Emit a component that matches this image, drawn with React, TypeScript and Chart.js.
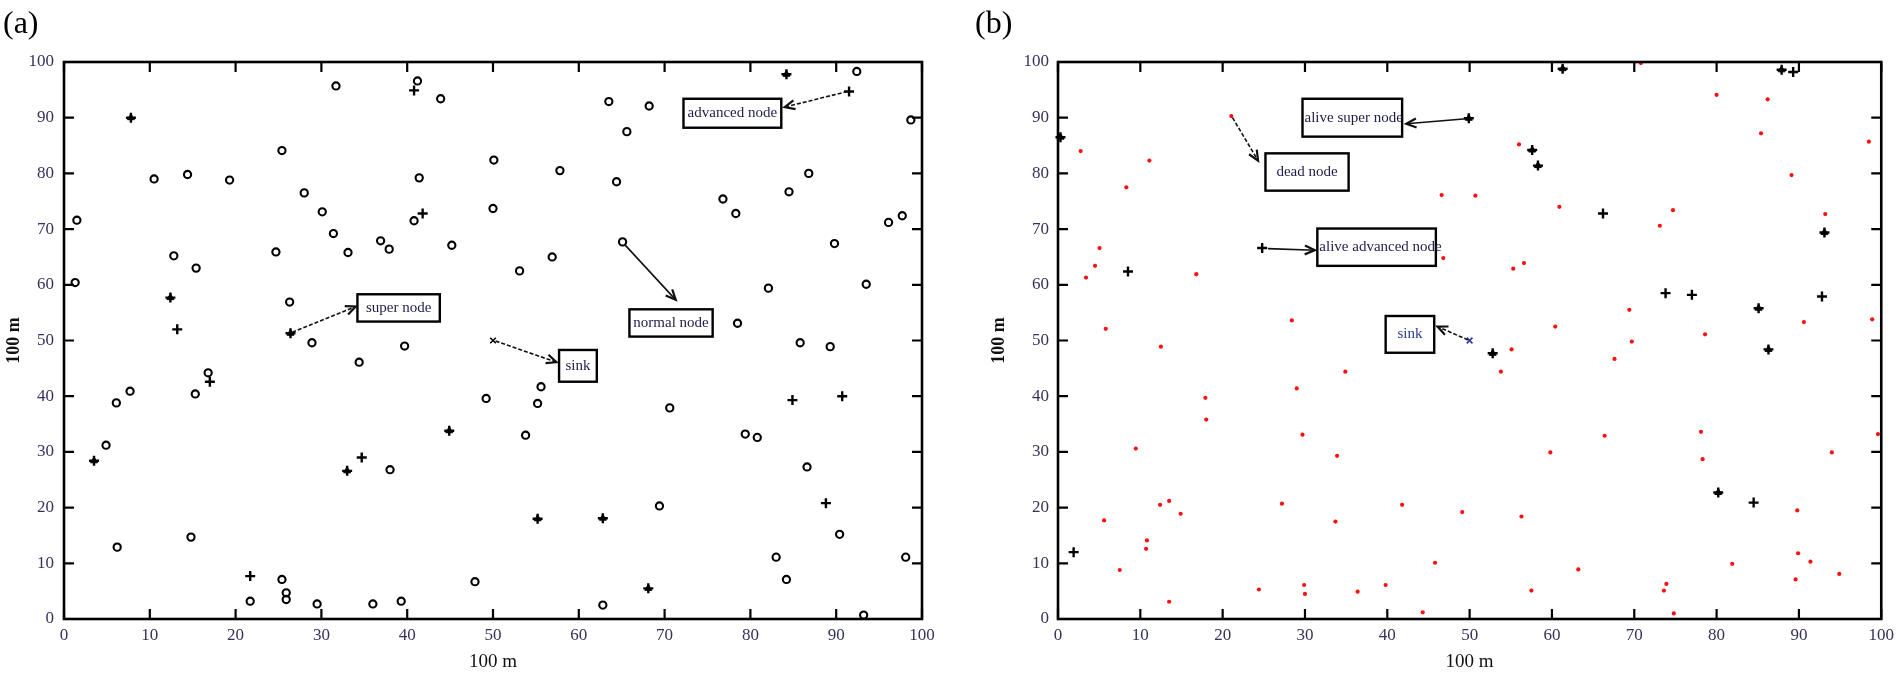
import React, { useEffect, useRef } from "react";
import { Chart, registerables } from "chart.js";

Chart.register(...registerables);

// ---------- shared axis values ----------
const AXIS_MIN = 0;
const AXIS_MAX = 100;
const TICK_STEP = 10;
const TICK_VALUES = [0, 10, 20, 30, 40, 50, 60, 70, 80, 90, 100];
const AXIS_TITLE = "100 m";

// ---------- panel (a): initial deployment ----------
const normalNodesA = [
  { x: 31.7, y: 95.7 }, { x: 41.2, y: 96.6 }, { x: 43.9, y: 93.4 }, { x: 25.4, y: 84.1 },
  { x: 10.5, y: 79.0 }, { x: 14.4, y: 79.8 }, { x: 19.3, y: 78.8 }, { x: 50.1, y: 82.4 },
  { x: 41.4, y: 79.2 }, { x: 28.0, y: 76.5 }, { x: 30.1, y: 73.1 }, { x: 50.0, y: 73.7 },
  { x: 40.8, y: 71.5 }, { x: 1.5, y: 71.6 }, { x: 31.4, y: 69.2 }, { x: 45.2, y: 67.1 },
  { x: 36.9, y: 67.9 }, { x: 37.9, y: 66.4 }, { x: 33.1, y: 65.8 }, { x: 24.7, y: 65.9 },
  { x: 12.8, y: 65.2 }, { x: 15.4, y: 63.0 }, { x: 1.3, y: 60.4 }, { x: 26.3, y: 56.9 },
  { x: 28.9, y: 49.6 }, { x: 39.7, y: 49.0 }, { x: 34.4, y: 46.1 }, { x: 16.8, y: 44.2 },
  { x: 15.3, y: 40.4 }, { x: 7.7, y: 40.9 }, { x: 6.1, y: 38.8 }, { x: 49.2, y: 39.6 },
  { x: 4.9, y: 31.2 }, { x: 38.0, y: 26.8 }, { x: 14.8, y: 14.7 }, { x: 6.2, y: 12.9 },
  { x: 25.4, y: 7.1 }, { x: 25.9, y: 4.7 }, { x: 25.9, y: 3.5 }, { x: 21.7, y: 3.2 },
  { x: 29.5, y: 2.7 }, { x: 36.0, y: 2.7 }, { x: 39.3, y: 3.2 }, { x: 47.9, y: 6.7 },
  { x: 92.4, y: 98.3 }, { x: 98.7, y: 89.6 }, { x: 63.5, y: 92.9 }, { x: 68.2, y: 92.1 },
  { x: 65.6, y: 87.5 }, { x: 57.8, y: 80.5 }, { x: 64.4, y: 78.5 }, { x: 86.8, y: 80.0 },
  { x: 84.5, y: 76.7 }, { x: 76.8, y: 75.4 }, { x: 78.3, y: 72.8 }, { x: 97.7, y: 72.4 },
  { x: 96.1, y: 71.2 }, { x: 89.8, y: 67.4 }, { x: 65.1, y: 67.7 }, { x: 56.9, y: 65.0 },
  { x: 53.1, y: 62.5 }, { x: 82.1, y: 59.4 }, { x: 93.5, y: 60.1 }, { x: 78.5, y: 53.1 },
  { x: 85.8, y: 49.6 }, { x: 89.3, y: 48.9 }, { x: 55.6, y: 41.7 }, { x: 55.2, y: 38.7 },
  { x: 70.6, y: 37.9 }, { x: 53.8, y: 33.0 }, { x: 79.4, y: 33.2 }, { x: 80.8, y: 32.6 },
  { x: 86.6, y: 27.3 }, { x: 69.4, y: 20.3 }, { x: 90.4, y: 15.2 }, { x: 83.0, y: 11.1 },
  { x: 98.1, y: 11.1 }, { x: 84.2, y: 7.1 }, { x: 62.8, y: 2.5 }, { x: 93.2, y: 0.7 },
];
const advancedNodesA = [
  { x: 40.8, y: 94.9 }, { x: 41.8, y: 72.8 }, { x: 13.2, y: 52.0 }, { x: 17.0, y: 42.6 },
  { x: 34.7, y: 29.0 }, { x: 21.7, y: 7.7 }, { x: 91.5, y: 94.7 }, { x: 84.9, y: 39.3 },
  { x: 90.7, y: 40.0 }, { x: 88.8, y: 20.8 },
];
const superNodesA = [
  { x: 7.8, y: 90.0 }, { x: 12.4, y: 57.7 }, { x: 26.4, y: 51.3 }, { x: 44.9, y: 33.8 },
  { x: 3.5, y: 28.4 }, { x: 33.0, y: 26.6 }, { x: 84.2, y: 97.8 }, { x: 55.2, y: 18.0 },
  { x: 62.8, y: 18.1 }, { x: 68.1, y: 5.5 },
];
const sinkA = [{ x: 50, y: 50 }];

// ---------- panel (b): after some rounds ----------
const deadNodesB = [
  { x: 2.75, y: 84.0 }, { x: 11.1, y: 82.3 }, { x: 8.3, y: 77.5 }, { x: 21.05, y: 90.3 },
  { x: 5.05, y: 66.6 }, { x: 4.5, y: 63.4 }, { x: 3.4, y: 61.3 }, { x: 16.8, y: 61.9 },
  { x: 5.8, y: 52.1 }, { x: 28.4, y: 53.6 }, { x: 70.8, y: 99.8 }, { x: 80.0, y: 94.1 },
  { x: 86.2, y: 93.3 }, { x: 85.4, y: 87.2 }, { x: 98.5, y: 85.7 }, { x: 56.0, y: 85.2 },
  { x: 89.1, y: 79.7 }, { x: 46.6, y: 76.1 }, { x: 50.7, y: 76.0 }, { x: 60.9, y: 74.0 },
  { x: 74.7, y: 73.4 }, { x: 73.1, y: 70.6 }, { x: 93.2, y: 72.7 }, { x: 46.8, y: 64.8 },
  { x: 56.6, y: 63.9 }, { x: 55.3, y: 62.9 }, { x: 69.4, y: 55.5 }, { x: 90.6, y: 53.3 },
  { x: 98.9, y: 53.8 }, { x: 60.4, y: 52.5 }, { x: 78.6, y: 51.1 }, { x: 55.1, y: 48.4 },
  { x: 53.8, y: 44.4 }, { x: 69.7, y: 49.8 }, { x: 67.6, y: 46.7 }, { x: 66.4, y: 32.9 },
  { x: 78.1, y: 33.6 }, { x: 78.3, y: 28.7 }, { x: 59.8, y: 29.9 }, { x: 99.6, y: 33.2 },
  { x: 94.0, y: 29.9 }, { x: 49.1, y: 19.2 }, { x: 56.3, y: 18.4 }, { x: 89.8, y: 19.5 },
  { x: 45.8, y: 10.1 }, { x: 63.2, y: 8.9 }, { x: 81.9, y: 9.9 }, { x: 89.9, y: 11.8 },
  { x: 91.4, y: 10.3 }, { x: 94.9, y: 8.1 }, { x: 89.6, y: 7.1 }, { x: 73.9, y: 6.3 },
  { x: 73.6, y: 5.1 }, { x: 57.5, y: 5.1 }, { x: 74.8, y: 1.0 }, { x: 44.3, y: 1.2 },
  { x: 12.5, y: 48.9 }, { x: 34.9, y: 44.4 }, { x: 29.0, y: 41.4 }, { x: 17.9, y: 39.7 },
  { x: 18.0, y: 35.8 }, { x: 29.7, y: 33.1 }, { x: 9.45, y: 30.6 }, { x: 33.9, y: 29.3 },
  { x: 12.4, y: 20.5 }, { x: 13.5, y: 21.2 }, { x: 14.9, y: 18.9 }, { x: 27.2, y: 20.7 },
  { x: 41.8, y: 20.5 }, { x: 33.7, y: 17.5 }, { x: 5.6, y: 17.7 }, { x: 10.8, y: 14.1 },
  { x: 10.7, y: 12.6 }, { x: 7.5, y: 8.8 }, { x: 24.4, y: 5.3 }, { x: 29.9, y: 6.1 },
  { x: 30.0, y: 4.5 }, { x: 36.4, y: 4.9 }, { x: 39.8, y: 6.1 }, { x: 13.5, y: 3.1 },
];
const aliveAdvancedB = [
  { x: 8.5, y: 62.4 }, { x: 24.8, y: 66.6 }, { x: 66.2, y: 72.8 }, { x: 73.8, y: 58.5 },
  { x: 77.0, y: 58.2 }, { x: 92.8, y: 57.9 }, { x: 84.5, y: 20.9 }, { x: 1.9, y: 12.0 },
  { x: 89.3, y: 98.2 },
];
const aliveSuperB = [
  { x: 0.3, y: 86.5 }, { x: 61.3, y: 98.8 }, { x: 87.9, y: 98.6 }, { x: 49.9, y: 89.9 },
  { x: 57.6, y: 84.2 }, { x: 58.3, y: 81.4 }, { x: 93.1, y: 69.4 }, { x: 85.1, y: 55.8 },
  { x: 52.8, y: 47.7 }, { x: 86.3, y: 48.4 }, { x: 80.2, y: 22.7 },
];
const sinkB = [{ x: 50, y: 50 }];

// ---------- annotation labels (text) ----------
const labelsA = ["super node", "advanced node", "normal node", "sink"];
const labelsB = ["alive super node", "dead node", "alive advanced node", "sink"];

// annotation geometry (data coordinates): box [x1,y1,x2,y2], arrow from -> to
const annoGeomA = [
  { box: [34.2, 58.3, 43.8, 53.4], from: [26.6, 51.5], to: [34.0, 56.1], dashed: true, align: "center" },
  { box: [72.2, 93.4, 83.6, 88.2], from: [91.3, 94.7], to: [84.0, 91.9], dashed: true, align: "center" },
  { box: [65.9, 55.6, 75.6, 50.7], from: [65.3, 67.3], to: [71.3, 57.3], dashed: false, align: "center" },
  { box: [57.7, 48.3, 62.1, 42.6], from: [50.3, 49.9], to: [57.4, 46.1], dashed: true, align: "center" },
];
const annoGeomB = [
  { box: [29.7, 93.4, 41.8, 86.6], from: [49.6, 89.8], to: [42.3, 88.9], dashed: false, align: "left" },
  { box: [25.2, 83.6, 35.3, 76.9], from: [21.2, 90.0], to: [24.3, 82.3], dashed: true, align: "center" },
  { box: [31.5, 70.1, 45.9, 63.4], from: [25.5, 66.5], to: [31.2, 66.2], dashed: false, align: "left" },
  { box: [39.8, 54.4, 45.7, 47.8], from: [49.8, 50.1], to: [46.1, 52.5], dashed: true, align: "center" },
];

const SERIF = '"Liberation Serif", "DejaVu Serif", serif';
const TICK_COLOR = "#34345a";
const LABEL_COLOR = "#1e1e48";

function drawArrow(ctx: CanvasRenderingContext2D, x1: number, y1: number, x2: number, y2: number, dashed: boolean) {
  ctx.save();
  ctx.strokeStyle = "#111";
  ctx.lineWidth = 1.6;
  ctx.setLineDash(dashed ? [4, 2] : []);
  ctx.beginPath();
  ctx.moveTo(x1, y1);
  ctx.lineTo(x2, y2);
  ctx.stroke();
  ctx.setLineDash([]);
  const a = Math.atan2(y2 - y1, x2 - x1);
  const L = 11;
  const w = 0.42;
  ctx.lineWidth = 2.2;
  ctx.beginPath();
  ctx.moveTo(x2 - L * Math.cos(a - w), y2 - L * Math.sin(a - w));
  ctx.lineTo(x2, y2);
  ctx.lineTo(x2 - L * Math.cos(a + w), y2 - L * Math.sin(a + w));
  ctx.stroke();
  ctx.restore();
}

const framePlugin = {
  id: "frameTicks",
  afterDatasetsDraw(chart: any, _args: any, opts: any) {
    const { ctx, chartArea, scales } = chart;
    const { left, right, top, bottom } = chartArea;
    const xs = scales.x;
    const ys = scales.y;
    ctx.save();
    const labels: string[] = opts.labels || [];
    const geom: any[] = opts.geom || [];
    geom.forEach((g, i) => {
      const bx1 = xs.getPixelForValue(g.box[0]);
      const by1 = ys.getPixelForValue(g.box[1]);
      const bx2 = xs.getPixelForValue(g.box[2]);
      const by2 = ys.getPixelForValue(g.box[3]);
      ctx.fillStyle = "#fff";
      ctx.fillRect(bx1, by1, bx2 - bx1, by2 - by1);
      ctx.strokeStyle = "#000";
      ctx.lineWidth = 2.4;
      ctx.strokeRect(bx1, by1, bx2 - bx1, by2 - by1);
      ctx.font = `15px ${SERIF}`;
      ctx.fillStyle = opts.textColors && opts.textColors[i] ? opts.textColors[i] : LABEL_COLOR;
      ctx.textBaseline = "middle";
      if (g.align === "left") {
        ctx.textAlign = "left";
        ctx.fillText(labels[i], bx1 + 2, (by1 + by2) / 2);
      } else {
        ctx.textAlign = "center";
        ctx.fillText(labels[i], (bx1 + bx2) / 2, (by1 + by2) / 2);
      }
      drawArrow(
        ctx,
        xs.getPixelForValue(g.from[0]),
        ys.getPixelForValue(g.from[1]),
        xs.getPixelForValue(g.to[0]),
        ys.getPixelForValue(g.to[1]),
        g.dashed
      );
    });
    ctx.strokeStyle = "#000";
    ctx.lineWidth = 2.6;
    ctx.strokeRect(left, top, right - left, bottom - top);
    ctx.lineWidth = 2.2;
    const T = 10;
    TICK_VALUES.forEach((v) => {
      const px = xs.getPixelForValue(v);
      const py = ys.getPixelForValue(v);
      ctx.beginPath();
      ctx.moveTo(px, bottom);
      ctx.lineTo(px, bottom - T);
      ctx.moveTo(px, top);
      ctx.lineTo(px, top + T);
      ctx.moveTo(left, py);
      ctx.lineTo(left + T, py);
      ctx.moveTo(right, py);
      ctx.lineTo(right - T, py);
      ctx.stroke();
    });
    ctx.restore();
  },
};

function makeScales(yWidth: number, yPad: number) {
  const tickFont = { family: SERIF, size: 17 };
  return {
    x: {
      type: "linear" as const,
      position: "bottom" as const,
      min: AXIS_MIN,
      max: AXIS_MAX,
      afterFit: (s: any) => {
        s.height = 62;
      },
      grid: { display: false, drawTicks: false },
      border: { display: false },
      ticks: { stepSize: TICK_STEP, padding: 6, color: TICK_COLOR, font: tickFont, maxRotation: 0, autoSkip: false },
      title: {
        display: true,
        text: AXIS_TITLE,
        color: "#111",
        font: { family: SERIF, size: 19, weight: "normal" },
        padding: { top: 0, bottom: 8 },
      },
    },
    y: {
      type: "linear" as const,
      position: "left" as const,
      min: AXIS_MIN,
      max: AXIS_MAX,
      afterFit: (s: any) => {
        s.width = yWidth;
      },
      grid: { display: false, drawTicks: false },
      border: { display: false },
      ticks: { stepSize: TICK_STEP, padding: yPad, color: TICK_COLOR, font: tickFont, autoSkip: false },
      title: {
        display: true,
        text: AXIS_TITLE,
        color: "#111",
        font: { family: SERIF, size: 18, weight: "bold" },
        padding: { top: 4, bottom: 0 },
      },
    },
  };
}

function configA(): any {
  return {
    type: "scatter",
    data: {
      datasets: [
        {
          label: "normal node",
          data: normalNodesA,
          pointStyle: "circle",
          pointRadius: 3.6,
          borderWidth: 2.1,
          borderColor: "#000",
          backgroundColor: "rgba(255,255,255,0)",
          clip: 8,
        },
        {
          label: "advanced node",
          data: advancedNodesA,
          pointStyle: "cross",
          pointRadius: 5,
          borderWidth: 2.4,
          borderColor: "#000",
          clip: 8,
        },
        {
          label: "super node",
          data: superNodesA,
          pointStyle: "triangle",
          pointRadius: 4,
          borderWidth: 1,
          borderColor: "#000",
          backgroundColor: "#000",
          clip: 8,
        },
        {
          label: "super node (cross)",
          data: superNodesA,
          pointStyle: "cross",
          pointRadius: 5,
          borderWidth: 2.4,
          borderColor: "#000",
          clip: 8,
        },
        {
          label: "sink",
          data: sinkA,
          pointStyle: "crossRot",
          pointRadius: 4,
          borderWidth: 1.5,
          borderColor: "#000",
          clip: 8,
        },
      ],
    },
    options: {
      responsive: false,
      animation: false,
      events: [],
      layout: { padding: { left: 0, top: 62, right: 28, bottom: 0 } },
      scales: makeScales(64, 10),
      plugins: {
        legend: { display: false },
        tooltip: { enabled: false },
        frameTicks: { labels: labelsA, geom: annoGeomA },
      },
    },
    plugins: [framePlugin],
  };
}

function configB(): any {
  return {
    type: "scatter",
    data: {
      datasets: [
        {
          label: "dead node",
          data: deadNodesB,
          pointStyle: "circle",
          pointRadius: 2.1,
          borderWidth: 0,
          backgroundColor: "#ff1010",
          borderColor: "#ff1010",
          clip: 8,
        },
        {
          label: "alive advanced node",
          data: aliveAdvancedB,
          pointStyle: "cross",
          pointRadius: 5,
          borderWidth: 2.4,
          borderColor: "#000",
          clip: 8,
        },
        {
          label: "alive super node",
          data: aliveSuperB,
          pointStyle: "triangle",
          pointRadius: 4,
          borderWidth: 1,
          borderColor: "#000",
          backgroundColor: "#000",
          clip: 8,
        },
        {
          label: "alive super node (cross)",
          data: aliveSuperB,
          pointStyle: "cross",
          pointRadius: 5,
          borderWidth: 2.4,
          borderColor: "#000",
          clip: 8,
        },
        {
          label: "sink",
          data: sinkB,
          pointStyle: "crossRot",
          pointRadius: 4,
          borderWidth: 1.6,
          borderColor: "#2b3aa8",
          clip: 8,
        },
      ],
    },
    options: {
      responsive: false,
      animation: false,
      events: [],
      layout: { padding: { left: 35, top: 62, right: 17, bottom: 0 } },
      scales: makeScales(73, 9),
      plugins: {
        legend: { display: false },
        tooltip: { enabled: false },
        frameTicks: { labels: labelsB, geom: annoGeomB, textColors: [null, null, null, "#2a3a8a"] },
      },
    },
    plugins: [framePlugin],
  };
}

function Panel({ makeConfig }: { makeConfig: () => any }) {
  const ref = useRef<HTMLCanvasElement | null>(null);
  useEffect(() => {
    if (!ref.current) return;
    const chart = new Chart(ref.current, makeConfig());
    return () => chart.destroy();
  }, [makeConfig]);
  return <canvas ref={ref} width={950} height={681} style={{ display: "block", width: 950, height: 681 }} />;
}

export default function App() {
  const panelLabel: React.CSSProperties = {
    position: "absolute",
    top: 0,
    fontFamily: SERIF,
    fontSize: 32,
    lineHeight: "44px",
    color: "#000",
  };
  return (
    <div
      style={{
        position: "fixed",
        left: 0,
        top: 0,
        width: 1900,
        height: 681,
        background: "#fff",
        overflow: "hidden",
      }}
    >
      <div style={{ position: "absolute", left: 0, top: 0, width: 950, height: 681 }}>
        <Panel makeConfig={configA} />
      </div>
      <div style={{ position: "absolute", left: 950, top: 0, width: 950, height: 681 }}>
        <Panel makeConfig={configB} />
      </div>
      <div style={{ ...panelLabel, left: 3 }}>(a)</div>
      <div style={{ ...panelLabel, left: 975 }}>(b)</div>
    </div>
  );
}
